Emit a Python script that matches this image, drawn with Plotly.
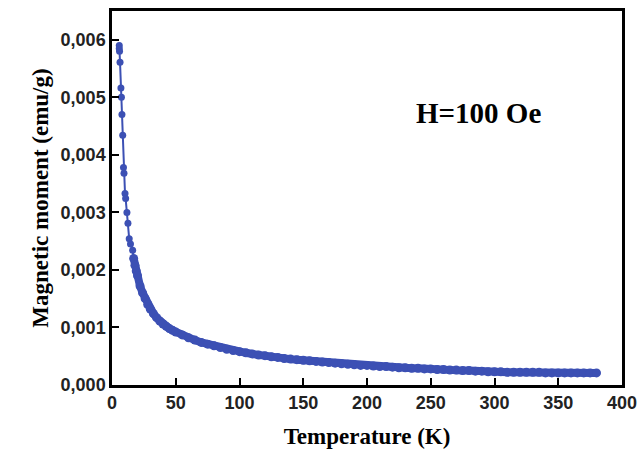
import plotly.graph_objects as go

# Temperature (K) and magnetic moment (emu/g)
temperature = [5.7, 5.7, 5.9, 6.3, 7.0, 7.4, 7.8, 8.4, 9.0, 9.4, 10.2, 10.7, 11.7, 12.5, 13.5, 14.5, 16.2,
               17, 18, 19, 20, 22, 24, 26, 28, 30, 32.5, 35, 37.5, 40, 42.5, 45, 47.5, 50, 55, 60, 65, 70, 75,
               80, 85, 90, 95, 100, 105, 110, 115, 120, 125, 130, 135, 140, 145, 150, 155, 160,
               165, 170, 175, 180, 185, 190, 195, 200, 205, 210, 215, 220, 225, 230, 235, 240,
               245, 250, 255, 260, 265, 270, 275, 280, 285, 290, 295, 300, 305, 310, 315, 320,
               325, 330, 335, 340, 345, 350, 355, 360, 365, 370, 375, 380]
moment = [0.00590, 0.00585, 0.00580, 0.00561, 0.00516, 0.00500, 0.00470, 0.00434, 0.00378, 0.00368,
          0.00333, 0.00324, 0.00300, 0.00281, 0.00254, 0.00245, 0.00234,
          0.00220, 0.00208, 0.00198, 0.00190, 0.00172, 0.00160, 0.00150, 0.00140, 0.00132, 0.00124,
          0.00117, 0.00111, 0.00106, 0.00102, 0.00098, 0.00095, 0.00092, 0.00087, 0.00082, 0.00078,
          0.00074, 0.00071, 0.00068, 0.00065, 0.00062, 0.00060, 0.00058, 0.00056, 0.00054, 0.00052,
          0.00051, 0.00049, 0.00048, 0.00046, 0.00045, 0.00044, 0.00043, 0.00042, 0.00041,
          0.00040, 0.00039, 0.00038, 0.00037, 0.00036, 0.00035, 0.00034, 0.00034, 0.00033, 0.00032,
          0.00032, 0.00031, 0.00030, 0.00030, 0.00029, 0.00029, 0.00028, 0.00028, 0.00027, 0.00027,
          0.00026, 0.00026, 0.00025, 0.00025, 0.00024, 0.00024, 0.00023, 0.00023, 0.00023, 0.00022,
          0.00022, 0.00022, 0.00022, 0.00022, 0.00022, 0.00021, 0.00021, 0.00021, 0.00021, 0.00021,
          0.00021, 0.00021, 0.00021, 0.00021]

x_ticks = [0, 50, 100, 150, 200, 250, 300, 350, 400]
x_tick_labels = [f"<b>{v}</b>" for v in x_ticks]
y_ticks = [0, 0.001, 0.002, 0.003, 0.004, 0.005, 0.006]
y_tick_labels = ["<b>0,000</b>", "<b>0,001</b>", "<b>0,002</b>", "<b>0,003</b>",
                 "<b>0,004</b>", "<b>0,005</b>", "<b>0,006</b>"]

blue = "#3c50b4"
serif = "Liberation Serif, Times New Roman, serif"
sans = "Liberation Sans, Arial, sans-serif"

split = 17  # sparse low-temperature points vs dense band
fig = go.Figure()
fig.add_trace(go.Scatter(
    x=temperature[:split + 1], y=moment[:split + 1], mode="lines+markers",
    line=dict(color=blue, width=2),
    marker=dict(color=blue, size=7),
    showlegend=False,
))
fig.add_trace(go.Scatter(
    x=temperature[split:], y=moment[split:], mode="lines+markers",
    line=dict(color=blue, width=8),
    marker=dict(color=blue, size=9),
    showlegend=False,
))

axis_common = dict(
    showline=True, linecolor="black", linewidth=2.5, mirror=True,
    ticks="inside", ticklen=7, tickwidth=2, tickcolor="black",
    showgrid=False, zeroline=False, automargin=False,
    tickfont=dict(family=sans, size=18, color="#222"),
)

fig.update_xaxes(range=[0, 400], tickvals=x_ticks, ticktext=x_tick_labels,
                 title=dict(text="<b>Temperature (K)</b>", font=dict(family=serif, size=23, color="black"), standoff=17),
                 **axis_common)
fig.update_yaxes(range=[0, 0.0065], tickvals=y_ticks, ticktext=y_tick_labels,
                 title=dict(text="<b>Magnetic moment (emu/g)</b>", font=dict(family=serif, size=23, color="black"), standoff=6),
                 **axis_common)

fig.add_annotation(x=0.718, y=0.727, xref="paper", yref="paper", text="<b>H=100 Oe</b>",
                   xanchor="center", yanchor="middle",
                   showarrow=False, font=dict(family=serif, size=29, color="black"))

fig.update_layout(
    width=638, height=449,
    margin=dict(l=112, r=16, t=11, b=64),
    plot_bgcolor="white", paper_bgcolor="white",
)

fig.write_html(
    "out.html",
    config={"displayModeBar": False},
    post_script="document.body.style.margin='0';document.body.style.overflow='hidden';",
)
